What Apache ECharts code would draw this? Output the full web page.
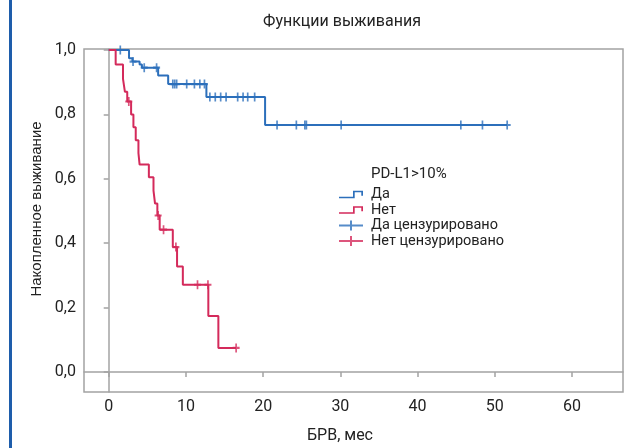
<!DOCTYPE html>
<html>
<head>
<meta charset="utf-8">
<script src="https://cdn.jsdelivr.net/npm/echarts@6/dist/echarts.min.js"></script>
<style>html,body{margin:0;padding:0;background:#fff;}#c{width:627px;height:448px;}</style>
</head>
<body>
<div id="c"></div>
<script>
// ---- data ----
const titleText = 'Функции выживания';
const xName = 'БРВ, мес';
const yName = 'Накопленное выживание';
const legendTitle = 'PD-L1>10%';
const seriesNames = ['Да', 'Нет', 'Да цензурировано', 'Нет цензурировано'];
const xTicks = [0, 10, 20, 30, 40, 50, 60];
const yTicks = [0, 0.2, 0.4, 0.6, 0.8, 1.0];

// "Да" group: event times and survival after each step
const daTimes = [0, 2.63, 3.07, 4.0, 4.3, 6.4, 7.7, 12.65, 20.25];
const daSurv  = [1.0, 0.974, 0.964, 0.955, 0.945, 0.921, 0.894, 0.854, 0.767];
const daEnd = 51.6;
const daCensored = [1.5, 3.15, 4.6, 6.2, 8.3, 8.55, 8.8, 10.1, 11.1, 11.8, 12.4,
                    13.1, 13.8, 14.5, 15.2, 16.7, 17.4, 18.0, 18.9,
                    21.8, 24.3, 25.4, 25.6, 30.1, 45.6, 48.4, 51.6];

// "Нет" group
const netTimes = [0, 0.9, 1.85, 2.1, 2.4, 2.9, 3.2, 3.5, 3.85, 4.0, 5.2, 5.8, 6.0, 6.3, 6.6, 8.3, 8.85, 9.6, 12.9, 14.2];
const netSurv  = [1.0, 0.955, 0.91, 0.87, 0.84, 0.80, 0.76, 0.72, 0.68, 0.644, 0.605, 0.563, 0.523, 0.486, 0.442, 0.388, 0.328, 0.271, 0.174, 0.075];
const netEnd = 16.5;
const netCensored = [2.6, 6.4, 7.1, 8.7, 11.5, 12.85, 16.5];

// ---- helpers ----
function stepPoints(times, surv, end) {
  const pts = times.map((t, i) => [t, surv[i]]);
  pts.push([end, surv[surv.length - 1]]);
  return pts;
}
function survAt(times, surv, t) {
  let s = surv[0];
  for (let i = 0; i < times.length; i++) { if (times[i] <= t) s = surv[i]; }
  return s;
}
const blue = '#2c6fbb';
const red = '#d42a5b';
const frame = '#a3a3a3';
const narrow = '"Liberation Sans Narrow", "Roboto", sans-serif';
const plusPath = 'path://M3.8,0 L6.2,0 L6.2,3.8 L10,3.8 L10,6.2 L6.2,6.2 L6.2,10 L3.8,10 L3.8,6.2 L0,6.2 L0,3.8 L3.8,3.8 Z';
const legendPlus = 'path://M0,4 L11,4 L11,0 L13,0 L13,4 L24,4 L24,6 L13,6 L13,10 L11,10 L11,6 L0,6 Z';
const legendStep = 'path://M0,6 L14,6 L14,0 L24,0 L24,5 L22.3,5 L22.3,1.7 L15.7,1.7 L15.7,7.7 L0,7.7 Z';

const chart = echarts.init(document.getElementById('c'), null, {renderer: 'canvas'});
chart.setOption({
  animation: false,
  backgroundColor: '#fff',
  title: [{
    text: titleText, left: 337, top: 9, textAlign: 'center',
    textStyle: {fontFamily: narrow, fontSize: 16, fontWeight: 'normal', color: '#222'}
  }, {
    text: legendTitle, left: 371, top: 167, padding: 0,
    textStyle: {fontFamily: narrow, fontSize: 15, fontWeight: 'normal', color: '#222'}
  }],
  grid: {left: 84, top: 49, right: 4, bottom: 56, show: true, borderColor: frame, borderWidth: 1.5, containLabel: false},
  legend: {
    orient: 'vertical', left: 339, top: 187, padding: 0,
    itemWidth: 24, itemHeight: 10, itemGap: 0.5, selectedMode: false,
    textStyle: {fontFamily: narrow, fontSize: 14.5, color: '#222', padding: [0, 0, 0, 3], lineHeight: 14},
    data: [
      {name: seriesNames[0], icon: legendStep, itemStyle: {color: blue}},
      {name: seriesNames[1], icon: legendStep, itemStyle: {color: red}},
      {name: seriesNames[2], icon: legendPlus, itemStyle: {color: blue}},
      {name: seriesNames[3], icon: legendPlus, itemStyle: {color: red}}
    ]
  },
  xAxis: {
    type: 'value', min: -3.2, max: 66.6,
    axisLine: {show: true, lineStyle: {color: frame, width: 1.5}},
    axisTick: {show: true, length: 5, lineStyle: {color: frame, width: 1.5}, customValues: xTicks},
    axisLabel: {customValues: xTicks, margin: 7, fontFamily: narrow, fontSize: 16, color: '#222'},
    splitLine: {show: false}
  },
  yAxis: {
    type: 'value', min: -0.062, max: 1.003,
    axisLine: {show: true, lineStyle: {color: frame, width: 1.5}},
    axisTick: {show: true, length: 5, lineStyle: {color: frame, width: 1.5}, customValues: yTicks},
    axisLabel: {customValues: yTicks, margin: 8, fontFamily: narrow, fontSize: 16, color: '#222',
      formatter: v => v.toFixed(1).replace('.', ',')},
    splitLine: {show: false}
  },
  graphic: [
    {type: 'rect', left: 9, top: 0, shape: {width: 3, height: 448}, style: {fill: '#1e5dab'}},
    {type: 'text', x: 37, y: 209, rotation: Math.PI / 2,
      style: {text: yName, align: 'center', verticalAlign: 'middle', fontFamily: '"Liberation Sans", Arial, sans-serif', fontSize: 15, fill: '#222'}},
    {type: 'text', x: 340, y: 436,
      style: {text: xName, align: 'center', verticalAlign: 'middle', fontFamily: narrow, fontSize: 16, fill: '#222'}}
  ],
  series: [
    {name: seriesNames[0], type: 'line', step: 'end', symbol: 'none', data: stepPoints(daTimes, daSurv, daEnd),
      lineStyle: {color: blue, width: 2}, itemStyle: {color: blue}, z: 2},
    {name: seriesNames[1], type: 'line', step: 'end', symbol: 'none', data: stepPoints(netTimes, netSurv, netEnd),
      lineStyle: {color: red, width: 2}, itemStyle: {color: red}, z: 3},
    {name: seriesNames[2], type: 'scatter', symbol: plusPath, symbolSize: [7, 9], symbolKeepAspect: false,
      data: daCensored.map(t => [t, survAt(daTimes, daSurv, t)]), itemStyle: {color: blue}, z: 4},
    {name: seriesNames[3], type: 'scatter', symbol: plusPath, symbolSize: [7, 9], symbolKeepAspect: false,
      data: netCensored.map(t => [t, survAt(netTimes, netSurv, t)]), itemStyle: {color: red}, z: 5}
  ]
});
</script>
</body>
</html>
